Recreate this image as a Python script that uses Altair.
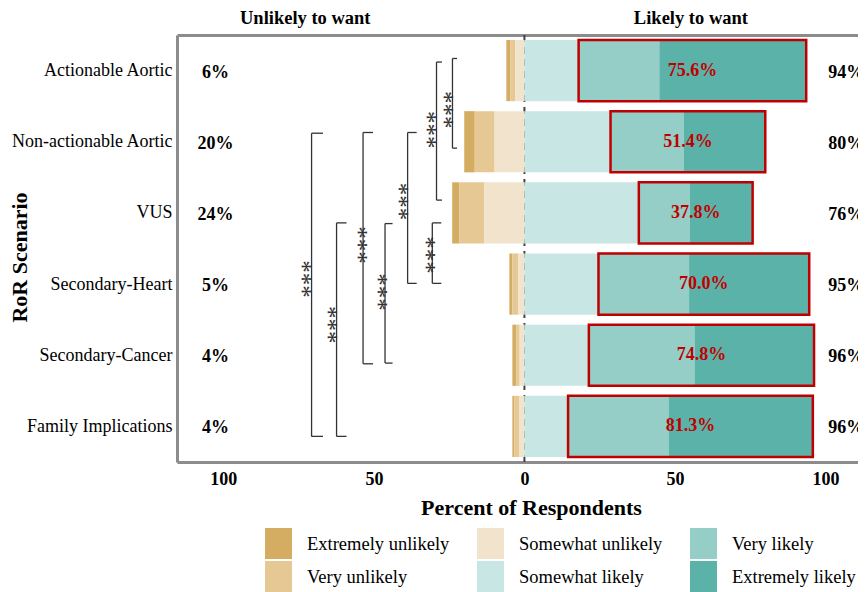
import altair as alt
import pandas as pd

# ---------------- data ----------------
categories = ["Actionable Aortic", "Non-actionable Aortic", "VUS",
              "Secondary-Heart", "Secondary-Cancer", "Family Implications"]
levels = ["Extremely unlikely", "Very unlikely", "Somewhat unlikely",
          "Somewhat likely", "Very likely", "Extremely likely"]

extremely_unlikely = [1.3, 3.5, 2.4, 1.0, 1.3, 0.6]
very_unlikely = [1.7, 6.6, 8.3, 2.0, 1.1, 1.6]
somewhat_unlikely = [3.0, 9.9, 13.3, 2.0, 1.6, 1.8]
somewhat_likely = [18.0, 28.6, 38.0, 24.6, 21.4, 14.5]
very_likely = [26.8, 24.4, 16.9, 30.1, 35.1, 33.5]
extremely_likely = [48.8, 27.0, 20.9, 39.9, 39.7, 47.8]

tick_values = [-100, -50, 0, 50, 100]

# significance comparisons (pairs of scenarios)
sig_from = ["Actionable Aortic", "Actionable Aortic", "Non-actionable Aortic", "VUS",
            "Non-actionable Aortic", "VUS", "Non-actionable Aortic", "VUS"]
sig_to = ["Non-actionable Aortic", "VUS", "Secondary-Heart", "Secondary-Heart",
          "Secondary-Cancer", "Secondary-Cancer", "Family Implications", "Family Implications"]
sig_label = ["***"] * 8

# ---------------- layout / style ----------------
level_colors = {"Extremely unlikely": "#D5AD62", "Very unlikely": "#E5C893",
                "Somewhat unlikely": "#F2E4CC", "Somewhat likely": "#C8E6E4",
                "Very likely": "#94CEC6", "Extremely likely": "#5AB2A8"}

bracket_x = [-23.9, -29.2, -38.8, -30.6, -53.6, -46.3, -70.7, -62.4]
bracket_tick = [1.5, 1.8, 3.0, 3.0, 3.3, 2.5, 3.8, 3.3]
bracket_top_off = [-0.17, -0.12, -0.13, 0.14, -0.13, 0.15, -0.12, 0.14]
bracket_bot_off = [0.09, -0.18, -0.01, -0.01, 0.12, 0.11, 0.14, 0.14]
star_x = [-26.6, -32.4, -41.6, -32.7, -55.4, -48.8, -73.9, -65.4]
star_y = [0.55, 0.83, 1.84, 2.59, 2.45, 3.11, 2.93, 3.57]

SERIF = "Liberation Serif"
FRAME = "#8c8c8c"
RED = "#C00000"
BAR_HALF = 0.43
N = len(categories)

# ---------------- tables ----------------
series = [extremely_unlikely, very_unlikely, somewhat_unlikely,
          somewhat_likely, very_likely, extremely_likely]
recs = []
for i, cat in enumerate(categories):
    neg = [series[k][i] for k in range(3)]
    pos = [series[k][i] for k in range(3, 6)]
    start = -sum(neg)
    for k in range(3):
        recs.append(dict(cat=cat, row=i, level=levels[k], order=k,
                         x1=start, x2=start + neg[k]))
        start += neg[k]
    start = 0.0
    for k in range(3):
        recs.append(dict(cat=cat, row=i, level=levels[3 + k], order=3 + k,
                         x1=start, x2=start + pos[k]))
        start += pos[k]
bars = pd.DataFrame(recs)
bars["y1"] = bars["row"] - BAR_HALF
bars["y2"] = bars["row"] + BAR_HALF

boxes = pd.DataFrame({
    "row": list(range(N)),
    "x1": somewhat_likely,
    "x2": [s + v + e for s, v, e in zip(somewhat_likely, very_likely, extremely_likely)],
    "label": [f"{v + e:.1f}%" for v, e in zip(very_likely, extremely_likely)],
})
boxes["y1"] = boxes["row"] - BAR_HALF
boxes["y2"] = boxes["row"] + BAR_HALF
boxes["xm"] = (boxes["x1"] + boxes["x2"]) / 2

totals = pd.DataFrame({
    "row": list(range(N)),
    "left": [f"{round(a + b + c)}%" for a, b, c in zip(extremely_unlikely, very_unlikely, somewhat_unlikely)],
    "right": [f"{round(a + b + c)}%" for a, b, c in zip(somewhat_likely, very_likely, extremely_likely)],
})

seg = []
for j in range(len(sig_from)):
    r1 = categories.index(sig_from[j]) + bracket_top_off[j]
    r2 = categories.index(sig_to[j]) + bracket_bot_off[j]
    xb = bracket_x[j]
    seg.append(dict(x1=xb, x2=xb, y1=r1, y2=r2))
    seg.append(dict(x1=xb, x2=xb + bracket_tick[j], y1=r1, y2=r1))
    seg.append(dict(x1=xb, x2=xb + bracket_tick[j], y1=r2, y2=r2))
segs = pd.DataFrame(seg)
stars = pd.DataFrame({"x": star_x, "y": star_y, "label": sig_label})

tops = pd.DataFrame({"pos": [-72.8, 55.3], "label": ["Unlikely to want", "Likely to want"]})

# ---------------- scales / axes ----------------
xscale = alt.Scale(domain=[-115.4, 110.8], nice=False, zero=False)
yscale = alt.Scale(domain=[-0.5, N - 0.5], reverse=True, nice=False, zero=False)
label_expr = "[" + ",".join(f"'{c}'" for c in categories) + "][datum.value]"
yaxis = alt.Axis(values=list(range(N)), labelExpr=label_expr, ticks=False, grid=False,
                 domainColor=FRAME, domainWidth=3, labelFont=SERIF, labelFontSize=18,
                 labelColor="black", labelPadding=5, titleFont=SERIF, titleFontSize=22,
                 titleFontWeight="bold", titleColor="black", titleX=-146, titleY=222)
xaxis = alt.Axis(values=tick_values, labelExpr="abs(datum.value)", ticks=False, grid=False,
                 domainColor=FRAME, domainWidth=3, labelFont=SERIF, labelFontSize=18,
                 labelFontWeight="bold", labelColor="black", labelPadding=8,
                 titleFont=SERIF, titleFontSize=22, titleFontWeight="bold",
                 titleColor="black", titleX=354, titleY=45, titleBaseline="middle")
topaxis = alt.Axis(orient="top", labels=False, ticks=False, grid=False,
                   domainColor=FRAME, domainWidth=3)


def Y(field):
    return alt.Y(field, type="quantitative", scale=yscale, axis=yaxis, title="RoR Scenario")


zero_rule = alt.Chart(pd.DataFrame({"a": [0]})).mark_rule(
    color="#444444", strokeDash=[7, 5], strokeWidth=2
).encode(
    x=alt.XDatum(0, type="quantitative", scale=xscale, axis=None),
    y=alt.YDatum(-0.5, type="quantitative", scale=yscale, axis=yaxis, title="RoR Scenario"),
    y2=alt.Y2Datum(N - 0.5),
)

bar_layer = alt.Chart(bars).mark_bar().encode(
    x=alt.X("x1:Q", scale=xscale, axis=xaxis, title="Percent of Respondents"),
    x2="x2:Q",
    y=Y("y1"),
    y2="y2:Q",
    color=alt.Color("level:N",
                    scale=alt.Scale(domain=levels,
                                    range=[level_colors[l] for l in levels]),
                    legend=alt.Legend(orient="none", legendX=86, legendY=493, columns=3,
                                      title=None, padding=0,
                                      symbolType="M-0.87,-1H0.87V1H-0.87Z",
                                      symbolSize=961, symbolStrokeWidth=0, symbolOpacity=1,
                                      labelFont=SERIF, labelFontSize=18.5, labelColor="black",
                                      labelOffset=13, columnPadding=25, rowPadding=2,
                                      labelLimit=300)),
)

box_layer = alt.Chart(boxes).mark_bar(
    fill="white", fillOpacity=0, stroke=RED, strokeWidth=2.5
).encode(
    x=alt.X("x1:Q", scale=xscale, axis=None),
    x2="x2:Q",
    y=Y("y1"),
    y2="y2:Q",
)

red_text = alt.Chart(boxes).mark_text(
    color=RED, font=SERIF, fontSize=18, fontWeight="bold", baseline="middle"
).encode(
    x=alt.X("xm:Q", scale=xscale, axis=None),
    y=Y("row"),
    text="label:N",
)

left_tot = alt.Chart(totals).mark_text(
    color="black", font=SERIF, fontSize=18, fontWeight="bold", baseline="middle", dy=2
).encode(
    x=alt.XDatum(-102.6, type="quantitative", scale=xscale, axis=None),
    y=Y("row"),
    text="left:N",
)

right_tot = alt.Chart(totals).mark_text(
    color="black", font=SERIF, fontSize=18, fontWeight="bold", baseline="middle", dy=2
).encode(
    x=alt.XDatum(106.9, type="quantitative", scale=xscale, axis=None),
    y=Y("row"),
    text="right:N",
)

bracket_layer = alt.Chart(segs).mark_rule(color="#333333", strokeWidth=1.3).encode(
    x=alt.X("x1:Q", scale=xscale, axis=None),
    x2="x2:Q",
    y=Y("y1"),
    y2="y2:Q",
)

star_layer = alt.Chart(stars).mark_text(
    color="#333333", font=SERIF, fontSize=25, angle=90, baseline="middle", align="center"
).encode(
    x=alt.X("x:Q", scale=xscale, axis=None),
    y=Y("y"),
    text="label:N",
)

top_layer = alt.Chart(tops).mark_text(
    color="black", font=SERIF, fontSize=18.5, fontWeight="bold", baseline="middle"
).encode(
    x=alt.X("pos:Q", scale=xscale, axis=topaxis, title=None),
    y=alt.value(-17),
    text="label:N",
)

chart = alt.layer(
    zero_rule, bar_layer, box_layer, red_text, left_tot, right_tot,
    bracket_layer, star_layer, top_layer
).resolve_axis(x="independent").properties(
    width=681, height=427,
    autosize=alt.AutoSizeParams(type="none"),
    padding={"left": 169, "top": 27, "right": 0, "bottom": 130},
).configure_view(strokeWidth=0)

chart.save("out.html", embed_options={"renderer": "svg", "actions": False})
